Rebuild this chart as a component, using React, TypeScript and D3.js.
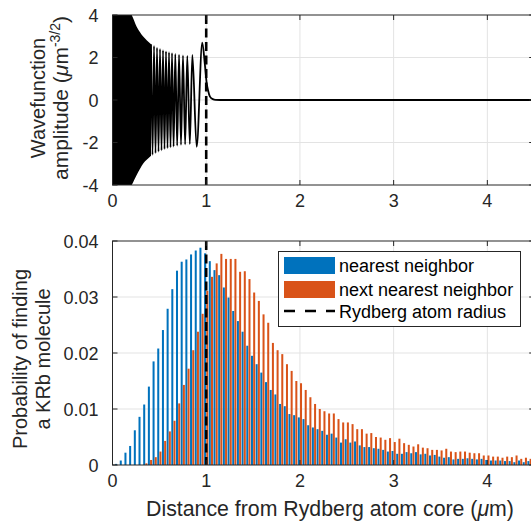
import * as d3 from "d3";
import React from "react";

// ---- data ----
// histogram bins: centres at 0.05, 0.10, ... 4.50 (um)
const binWidth = 0.05;
const nearestNeighbor = [
  0.0002, 0.0008, 0.0022, 0.0034, 0.0062, 0.0086, 0.0108, 0.014, 0.0185, 0.0208,
  0.0241, 0.0279, 0.0314, 0.0347, 0.0363, 0.0367, 0.0376, 0.0383, 0.0388, 0.0378,
  0.0364, 0.0348, 0.0339, 0.0317, 0.0299, 0.0275, 0.0257, 0.0238, 0.0213, 0.0195,
  0.018, 0.0165, 0.0148, 0.0134, 0.0126, 0.0109, 0.0105, 0.0091, 0.0089, 0.0085,
  0.0082, 0.0071, 0.0067, 0.0064, 0.0061, 0.0054, 0.0056, 0.0049, 0.004, 0.0046,
  0.004, 0.0042, 0.0035, 0.0032, 0.0032, 0.003, 0.0029, 0.0027, 0.0024, 0.0025,
  0.002, 0.002, 0.0023, 0.0021, 0.0023, 0.0019, 0.002, 0.0017, 0.0018, 0.0015,
  0.0013, 0.0014, 0.001, 0.0011, 0.0011, 0.0012, 0.0011, 0.001, 0.0011, 0.0009,
  0.0008, 0.0008, 0.0008, 0.0007, 0.0007, 0.0005, 0.0008, 0.0005, 0.0007, 0.0006,
];
const nextNearestNeighbor = [
  0, 0, 0, 0, 0, 0, 0.0003, 0.0009, 0.0014, 0.0024,
  0.0043, 0.006, 0.0079, 0.011, 0.0143, 0.0172, 0.0205, 0.0238, 0.027, 0.0311,
  0.0336, 0.036, 0.0377, 0.0368, 0.0368, 0.0368, 0.0345, 0.0346, 0.0332, 0.0308,
  0.0293, 0.0269, 0.0254, 0.0218, 0.0205, 0.0198, 0.018, 0.0168, 0.015, 0.0146,
  0.0134, 0.0121, 0.0109, 0.01, 0.0096, 0.0092, 0.0092, 0.0082, 0.0076, 0.0076,
  0.0073, 0.0064, 0.0064, 0.0056, 0.0057, 0.005, 0.0049, 0.0045, 0.0048, 0.0041,
  0.0047, 0.0039, 0.0036, 0.0033, 0.0037, 0.0031, 0.003, 0.0027, 0.0027, 0.0026,
  0.0029, 0.0024, 0.0023, 0.0024, 0.0024, 0.0022, 0.0021, 0.0021, 0.0017, 0.0017,
  0.0015, 0.0015, 0.0013, 0.0015, 0.0014, 0.0017, 0.0011, 0.0013, 0.0011, 0.001,
];

// wavefunction: unresolved fast oscillation near the core is a solid envelope
const envelopeX = [0, 0.1, 0.205, 0.258, 0.33, 0.4, 0.411];
const envelopeUpper = [4.6, 4.6, 4.0, 3.45, 2.98, 2.67, 2.62];
const envelopeLower = [-4.6, -4.6, -4.0, -3.53, -2.98, -2.67, -2.62];
// resolved extrema
const extremaX = [
  0.411, 0.427, 0.443, 0.459, 0.475, 0.491, 0.507, 0.523, 0.539, 0.555, 0.571, 0.587,
  0.603, 0.619, 0.635, 0.652, 0.67, 0.69, 0.71, 0.731, 0.752, 0.775, 0.798, 0.825,
  0.852, 0.898, 0.958,
];
const extremaY = [
  2.62, -2.58, 2.54, -2.5, 2.46, -2.43, 2.4, -2.37, 2.34, -2.31, 2.29, -2.27,
  2.25, -2.23, 2.21, -2.19, 2.17, -2.15, 2.13, -2.11, 2.1, -2.09, 2.08, -2.08,
  2.12, -2.2, 2.7,
];
// decaying tail outside the Rydberg radius
const tailX = [0.985, 1.005, 1.02, 1.04, 1.07, 1.1, 1.2, 4.5];
const tailY = [1.7, 0.8, 0.45, 0.16, 0.04, 0.01, 0, 0];

const rydbergRadius = 1;
const xTicks = [0, 1, 2, 3, 4];
const yTicksTop = [-4, -2, 0, 2, 4];
const yTicksBottom = [0, 0.01, 0.02, 0.03, 0.04];
const legendLabels = ["nearest neighbor", "next nearest neighbor", "Rydberg atom radius"];

const BLUE = "#0072BD";
const ORANGE = "#D95319";
const AXIS = "#262626";
const GRID = "#e3e3e3";
const FONT = "'Liberation Sans', Arial, Helvetica, sans-serif";

const W = 531;
const H = 527;
const left = 112.5;
const right = 534.2;

const x = d3.scaleLinear().domain([0, 4.5]).range([left, right]);
const yTop = d3.scaleLinear().domain([-4, 4]).range([185, 15]);
const yBot = d3.scaleLinear().domain([0, 0.04]).range([465, 241]);

function Grid({ y, ticks }: { y: d3.ScaleLinear<number, number>; ticks: number[] }) {
  const [y0, y1] = y.range();
  return (
    <g>
      {xTicks.filter((t) => t > 0).map((t) => (
        <line key={"gx" + t} x1={x(t)} x2={x(t)} y1={y0} y2={y1} stroke={GRID} strokeWidth={1} />
      ))}
      {ticks.slice(1, -1).map((t) => (
        <line key={"gy" + t} x1={left} x2={right} y1={y(t)} y2={y(t)} stroke={GRID} strokeWidth={1} />
      ))}
    </g>
  );
}

function Axes({ y, ticks, fmt }: { y: d3.ScaleLinear<number, number>; ticks: number[]; fmt: (v: number) => string }) {
  const [y0, y1] = y.range();
  const tl = 5;
  return (
    <g fontFamily={FONT} fontSize={18} fill={AXIS}>
      <rect x={left} y={y1} width={right - left} height={y0 - y1} fill="none" stroke={AXIS} strokeWidth={1} />
      {xTicks.map((t) => (
        <g key={"tx" + t}>
          <line x1={x(t)} x2={x(t)} y1={y0} y2={y0 - tl} stroke={AXIS} />
          <line x1={x(t)} x2={x(t)} y1={y1} y2={y1 + tl} stroke={AXIS} />
          <text x={x(t)} y={y0 + 22} textAnchor="middle">{t}</text>
        </g>
      ))}
      {ticks.map((t) => (
        <g key={"ty" + t}>
          <line x1={left} x2={left + tl} y1={y(t)} y2={y(t)} stroke={AXIS} />
          <line x1={right} x2={right - tl} y1={y(t)} y2={y(t)} stroke={AXIS} />
          <text x={left - 14} y={y(t) + 6.5} textAnchor="end">{fmt(t)}</text>
        </g>
      ))}
    </g>
  );
}

export default function App() {
  const envelopeArea = d3
    .area<number>()
    .x((d, i) => x(envelopeX[i]))
    .y0((d, i) => yTop(envelopeLower[i]))
    .y1((d, i) => yTop(envelopeUpper[i]))
    .curve(d3.curveMonotoneX);
  const wavePts: [number, number][] = [
    ...extremaX.map((v, i) => [v, extremaY[i]] as [number, number]),
    ...tailX.map((v, i) => [v, tailY[i]] as [number, number]),
  ];
  const waveLine = d3
    .line<[number, number]>()
    .x((d) => x(d[0]))
    .y((d) => yTop(d[1]))
    .curve(d3.curveMonotoneX);

  const binPx = x(binWidth) - x(0);
  const barW = binPx * 0.43;
  const off = binPx * 0.235;

  return (
    <svg width={W} height={H} style={{ position: "absolute", left: 0, top: 0, background: "#fff" }}>
      <defs>
        <clipPath id="clipTop">
          <rect x={left} y={15} width={right - left} height={170} />
        </clipPath>
        <clipPath id="clipBot">
          <rect x={left} y={241} width={right - left} height={224} />
        </clipPath>
      </defs>

      {/* ---------- top panel ---------- */}
      <Grid y={yTop} ticks={yTicksTop} />
      <g clipPath="url(#clipTop)">
        <path d={envelopeArea(envelopeX) || ""} fill="#000" />
        <path d={waveLine(wavePts) || ""} fill="none" stroke="#000" strokeWidth={1.8} />
        <line x1={x(rydbergRadius)} x2={x(rydbergRadius)} y1={15} y2={185} stroke="#000" strokeWidth={2.6} strokeDasharray="9,4.5" />
      </g>
      <Axes y={yTop} ticks={yTicksTop} fmt={String} />

      {/* ---------- bottom panel ---------- */}
      <Grid y={yBot} ticks={yTicksBottom} />
      <g clipPath="url(#clipBot)">
        {nearestNeighbor.map((v, i) => {
          const c = x(binWidth * (i + 1));
          return <rect key={"b" + i} x={c - off - barW / 2} y={yBot(v)} width={barW} height={yBot(0) - yBot(v)} fill={BLUE} />;
        })}
        {nextNearestNeighbor.map((v, i) => {
          const c = x(binWidth * (i + 1));
          return <rect key={"o" + i} x={c + off - barW / 2} y={yBot(v)} width={barW} height={yBot(0) - yBot(v)} fill={ORANGE} />;
        })}
        <line x1={x(rydbergRadius)} x2={x(rydbergRadius)} y1={241} y2={465} stroke="#000" strokeWidth={2.6} strokeDasharray="9,4.5" />
      </g>
      <Axes y={yBot} ticks={yTicksBottom} fmt={(v) => (v === 0 ? "0" : d3.format(".2f")(v))} />

      {/* legend */}
      <g fontFamily={FONT} fontSize={18} fill="#000">
        <rect x={278.5} y={251.5} width={242} height={75} fill="#fff" stroke={AXIS} strokeWidth={1} />
        <rect x={284} y={257} width={51} height={17} fill={BLUE} />
        <rect x={284} y={281} width={51} height={17} fill={ORANGE} />
        <line x1={284} x2={335} y1={311} y2={311} stroke="#000" strokeWidth={2.6} strokeDasharray="11,10" />
        <text x={339} y={272}>{legendLabels[0]}</text>
        <text x={339} y={296}>{legendLabels[1]}</text>
        <text x={339} y={318}>{legendLabels[2]}</text>
      </g>

      {/* axis labels */}
      <g fontFamily={FONT} fontSize={20} fill={AXIS} textAnchor="middle">
        <text transform="translate(45,98) rotate(-90)">Wavefunction</text>
        <text transform="translate(67.5,98) rotate(-90)" fontSize={21}>
          amplitude (<tspan fontStyle="italic">μ</tspan>m<tspan fontSize={14} dy={-8}>-3/2</tspan><tspan dy={8}>)</tspan>
        </text>
        <text transform="translate(27,359) rotate(-90)">Probability of finding</text>
        <text transform="translate(50,359) rotate(-90)">a KRb molecule</text>
        <text x={330} y={516} fontSize={21.3}>
          Distance from Rydberg atom core (<tspan fontStyle="italic">μ</tspan>m)
        </text>
      </g>
    </svg>
  );
}
